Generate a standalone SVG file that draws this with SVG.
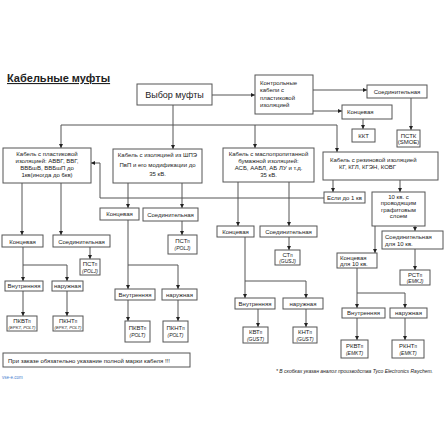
<svg xmlns="http://www.w3.org/2000/svg" width="445" height="445" viewBox="0 0 445 445">
<defs>
<marker id="ar" viewBox="0 0 6 6" refX="6" refY="3" markerWidth="4" markerHeight="4" orient="auto" markerUnits="userSpaceOnUse"><path d="M0,0 L6,3 L0,6 z" fill="#222"/></marker>
<style>
rect{fill:#fff;stroke:#555;stroke-width:1}
text{font-family:"Liberation Sans",Arial,sans-serif;fill:#222;font-size:6px}
.c{text-anchor:middle}
.i{font-style:italic;font-size:5px}
.t{font-size:4.3px}
.s{font-size:4.5px}
#conn path{fill:none;stroke:#555;stroke-width:1}
.a{marker-end:url(#ar)}
</style>
</defs>
<rect x="0" y="0" width="445" height="445" style="stroke:none;fill:#fff"/>
<text x="7" y="82" style="font-size:11px;font-weight:bold;text-decoration:underline">Кабельные муфты</text>

<g id="conn">
<path class="a" d="M212,95 H255"/>
<path class="a" d="M173,105 V149"/>
<path d="M61,125 H337"/>
<path class="a" d="M61,125 V148"/>
<path class="a" d="M255,125 V148"/>
<path class="a" d="M337,125 V152"/>
<path class="a" d="M313,90 H367"/>
<path class="a" d="M313,111 H342"/>
<path class="a" d="M363,119 V129"/>
<path class="a" d="M411,98 V130"/>
<path class="a" d="M22,183 V235"/>
<path class="a" d="M61,183 V235"/>
<path class="a" d="M23,247 V281"/>
<path class="a" d="M23,265 H67 V281"/>
<path class="a" d="M23,291 V316"/>
<path class="a" d="M67,291 V316"/>
<path class="a" d="M90,247 V259"/>
<path class="a" d="M324,198 H100 V163 H91"/>
<path class="a" d="M128,183 V208"/>
<path class="a" d="M182,183 V208"/>
<path class="a" d="M182,221 V235"/>
<path class="a" d="M128,220 V289"/>
<path class="a" d="M128,265 H178 V289"/>
<path class="a" d="M128,300 V321"/>
<path class="a" d="M178,300 V321"/>
<path class="a" d="M238,182 V226"/>
<path class="a" d="M289,182 V226"/>
<path class="a" d="M289,237 V250"/>
<path class="a" d="M245,237 V298"/>
<path class="a" d="M245,281 H306 V298"/>
<path class="a" d="M258,309 V327"/>
<path class="a" d="M306,309 V327"/>
<path class="a" d="M333,180 V192"/>
<path class="a" d="M400,180 V192"/>
<path class="a" d="M375,226 V253"/>
<path class="a" d="M415,226 V231"/>
<path class="a" d="M415,249 V270"/>
<path class="a" d="M357,268 V308"/>
<path class="a" d="M357,293 H405 V308"/>
<path class="a" d="M357,318 V340"/>
<path class="a" d="M405,318 V340"/>
</g>

<g id="vybor"><rect x="137" y="84" width="75" height="21"/><text class="c" x="174.5" y="98" style="font-size:9px">Выбор муфты</text></g>
<g id="kontrol"><rect x="255" y="75" width="58" height="39"/>
<text x="260" y="84.5">Контрольные</text><text x="260" y="92">кабели  с</text><text x="260" y="99.5">пластиковой</text><text x="260" y="107">изоляцией</text></g>
<g id="k_soed"><rect x="367" y="85" width="60" height="13"/><text class="c" x="397" y="93.5">Соединительная</text></g>
<g id="k_konc"><rect x="342" y="105" width="50" height="14"/><text x="347" y="114">Концевая</text></g>
<g id="kkt"><rect x="352" y="129" width="23" height="13"/><text class="c" x="363.5" y="137.5">ККТ</text></g>
<g id="pstk"><rect x="397" y="130" width="23" height="17"/><text class="c" x="408.5" y="137.5">ПСТК</text><text class="c" x="408.5" y="144">(SMOE)</text></g>

<g id="plast"><rect x="3" y="148" width="88" height="35"/>
<text class="c" x="47" y="156">Кабель с пластиковой</text><text class="c" x="47" y="163">изоляцией: АВВГ, ВВГ,</text><text class="c" x="47" y="170">ВВБшВ, ВВБшП до</text><text class="c" x="47" y="177">1кв(иногда до 6кв)</text></g>
<g id="shpe"><rect x="113" y="149" width="89" height="34"/>
<text class="c" x="157.5" y="157">Кабель с изоляцией из ШПЭ</text><text class="c" x="157.5" y="166.5">ПвП и его модификации до</text><text class="c" x="157.5" y="175.5">35 кВ.</text></g>
<g id="maslo"><rect x="223" y="148" width="91" height="34"/>
<text class="c" x="268.5" y="156">Кабель с маслопропитанной</text><text class="c" x="268.5" y="162.5">бумажной изоляцией:</text><text class="c" x="268.5" y="169.5">АСБ, ААБЛ, АБ ЛУ и т.д.</text><text class="c" x="268.5" y="176.5">35 кВ.</text></g>
<g id="rezin"><rect x="323" y="152" width="115" height="28"/>
<text x="330" y="162">Кабель с резиновой  изоляцией</text><text x="339" y="168.5">КГ, КГЛ, КГЭН, КОВГ</text></g>

<g id="plast_konc"><rect x="2" y="235" width="41" height="12"/><text class="c" x="22.5" y="243.5">Концевая</text></g>
<g id="plast_soed"><rect x="53" y="235" width="57" height="12"/><text class="c" x="81.5" y="243.5">Соединительная</text></g>
<g id="pst1"><rect x="80" y="259" width="20" height="16"/><text class="c" x="90" y="266">ПСТ<tspan class="s">п</tspan></text><text class="c i" x="90" y="272.5">(POLJ)</text></g>
<g id="plast_vnut"><rect x="5" y="281" width="38" height="10"/><text class="c" x="24" y="288.2">Внутренняя</text></g>
<g id="plast_nar"><rect x="52" y="281" width="31" height="10"/><text class="c" x="67.5" y="288.2">наружная</text></g>
<g id="pkvt1"><rect x="7" y="316" width="30" height="15"/><text class="c" x="22" y="323">ПКВТ<tspan class="s">п</tspan></text><text class="c i t" x="22" y="329">(EPKT, POLT)</text></g>
<g id="pknt1"><rect x="53" y="316" width="30" height="15"/><text class="c" x="68" y="323">ПКНТ<tspan class="s">п</tspan></text><text class="c i t" x="68" y="329">(EPKT, POLT)</text></g>

<g id="shpe_konc"><rect x="100" y="208" width="39" height="12"/><text class="c" x="119.5" y="216.3">Концевая</text></g>
<g id="shpe_soed"><rect x="143" y="208" width="55" height="13"/><text class="c" x="170.5" y="216.8">Соединительная</text></g>
<g id="pst2"><rect x="168" y="235" width="29" height="19"/><text class="c" x="182.5" y="243">ПСТ<tspan class="s">п</tspan></text><text class="c i" x="182.5" y="250">(POLJ)</text></g>
<g id="shpe_vnut"><rect x="115" y="289" width="40" height="11"/><text class="c" x="135" y="296.7">Внутренняя</text></g>
<g id="shpe_nar"><rect x="162" y="289" width="35" height="11"/><text class="c" x="179.5" y="296.7">наружная</text></g>
<g id="pkvt2"><rect x="125" y="321" width="25" height="21"/><text class="c" x="137.5" y="330">ПКВТ<tspan class="s">п</tspan></text><text class="c i" x="137.5" y="337">(POLT)</text></g>
<g id="pknt2"><rect x="163" y="321" width="25" height="21"/><text class="c" x="175.5" y="330">ПКНТ<tspan class="s">п</tspan></text><text class="c i" x="175.5" y="337">(POLT)</text></g>

<g id="maslo_konc"><rect x="217" y="226" width="37" height="11"/><text class="c" x="235.5" y="233.7">Концевая</text></g>
<g id="maslo_soed"><rect x="260" y="226" width="57" height="11"/><text class="c" x="288.5" y="233.7">Соединительная</text></g>
<g id="st"><rect x="275" y="250" width="25" height="15"/><text class="c" x="287.5" y="257">СТ<tspan class="s">п</tspan></text><text class="c i" x="287.5" y="263">(GUSJ)</text></g>
<g id="maslo_vnut"><rect x="235" y="298" width="40" height="11"/><text class="c" x="255" y="305.7">Внутренняя</text></g>
<g id="maslo_nar"><rect x="283" y="298" width="40" height="11"/><text class="c" x="303" y="305.7">наружная</text></g>
<g id="kvt"><rect x="243" y="327" width="25" height="16"/><text class="c" x="255.5" y="334">КВТ<tspan class="s">п</tspan></text><text class="c i" x="255.5" y="340.5">(GUST)</text></g>
<g id="knt"><rect x="293" y="327" width="24" height="16"/><text class="c" x="305" y="334">КНТ<tspan class="s">п</tspan></text><text class="c i" x="305" y="340.5">(GUST)</text></g>

<g id="esli"><rect x="324" y="192" width="41" height="11"/><text class="c" x="344.5" y="199.7">Если до 1 кв</text></g>
<g id="kv10"><rect x="372" y="192" width="53" height="34"/>
<text class="c" x="398.5" y="198.5">10 кв. с</text><text class="c" x="398.5" y="205">проводящим</text><text class="c" x="398.5" y="211.5">графитовым</text><text class="c" x="398.5" y="218">слоем</text></g>
<g id="r_soed"><rect x="382" y="231" width="61" height="18"/><text x="385" y="238.5">Соединительная</text><text x="385" y="246">для 10 кв.</text></g>
<g id="r_konc"><rect x="337" y="253" width="40" height="15"/><text x="340" y="259.5">Концевая</text><text x="340" y="266">для 10 кв.</text></g>
<g id="rst"><rect x="400" y="270" width="30" height="15"/><text class="c" x="415" y="277">РСТ<tspan class="s">п</tspan></text><text class="c i" x="415" y="283">(EMKJ)</text></g>
<g id="r_vnut"><rect x="342" y="308" width="43" height="10"/><text class="c" x="363.5" y="315.2">Внутренняя</text></g>
<g id="r_nar"><rect x="390" y="308" width="37" height="10"/><text class="c" x="408.5" y="315.2">наружная</text></g>
<g id="rkvt"><rect x="341" y="340" width="27" height="18"/><text class="c" x="354.5" y="348">РКВТ<tspan class="s">п</tspan></text><text class="c i" x="354.5" y="355">(EMKT)</text></g>
<g id="rknt"><rect x="392" y="340" width="32" height="18"/><text class="c" x="408" y="348">РКНТ<tspan class="s">п</tspan></text><text class="c i" x="408" y="355">(EMKT)</text></g>

<g id="note"><rect x="3" y="353" width="187" height="14"/><text x="8" y="362.5">При заказе обязательно указание полной марки кабеля !!!</text></g>
<text x="433" y="373" style="font-style:italic;font-size:5px;text-anchor:end">* В скобках указан аналог производства Tyco Electronics Raychem.</text>
<text x="2" y="379" style="font-size:4.5px;fill:#4a7fd0">vse-e.com</text>
</svg>
